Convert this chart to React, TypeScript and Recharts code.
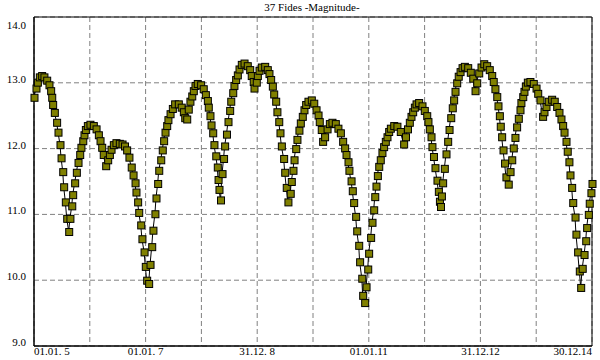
import React from 'react';
import {
  LineChart, Line, XAxis, YAxis, CartesianGrid, ReferenceArea
} from 'recharts';

// days since 01.01.2005
const days = [
  0, 13, 22, 35, 50, 65, 83, 98, 109, 116, 122, 133, 148, 157, 170, 177, 188, 194, 205, 214,
  227, 235, 247, 253, 266, 277, 288, 299, 307, 319, 327, 336, 349, 366, 388, 406, 421, 432, 443, 453,
  469, 482, 493, 504, 519, 536, 558, 576, 592, 606, 621, 636, 648, 661, 667, 678, 685, 698, 706, 720,
  728, 737, 750, 759, 770, 778, 791, 798, 809, 816, 829, 839, 848, 857, 868, 876, 890, 905, 920, 944,
  963, 977, 986, 999, 1009, 1020, 1032, 1042, 1053, 1068, 1090, 1107, 1121, 1134, 1140, 1151, 1158, 1169, 1177, 1189,
  1199, 1204, 1210, 1220, 1230, 1240, 1247, 1259, 1269, 1280, 1287, 1300, 1308, 1319, 1330, 1341, 1356, 1374, 1395, 1411,
  1421, 1434, 1439, 1454, 1461, 1472, 1487, 1509, 1526, 1537, 1548, 1559, 1568, 1581, 1589, 1601, 1609, 1618, 1633, 1640,
  1650, 1661, 1676, 1683, 1694, 1701, 1712, 1720, 1733, 1742, 1755, 1766, 1777, 1792, 1814, 1830, 1845, 1858, 1866, 1879,
  1888, 1901, 1917, 1932, 1949, 1971, 1988, 2004, 2019, 2032, 2041, 2054, 2060, 2074, 2082, 2091, 2104, 2111, 2124, 2130,
  2144, 2150, 2163, 2172, 2183, 2189, 2202, 2211, 2222, 2229, 2237, 2246, 2255, 2265, 2276, 2287, 2298, 2309, 2320, 2331,
  2353, 2374, 2396, 2418, 2430, 2443, 2455, 2466, 2477, 2488, 2499, 2516, 2538, 2553, 2569, 2577, 2586, 2597, 2603, 2613,
  2623, 2636, 2645, 2652, 2659, 2665, 2673, 2684, 2695, 2706, 2715, 2726, 2736, 2745, 2754, 2765, 2775, 2787, 2800, 2815,
  2837, 2854, 2870, 2885, 2896, 2909, 2924, 2942, 2961, 2978, 2994, 3004, 3015, 3027, 3035, 3044, 3050, 3059, 3068, 3078,
  3087, 3102, 3114, 3125, 3135, 3146, 3157, 3168, 3179, 3185, 3197, 3205, 3214, 3227, 3244, 3266, 3284, 3295, 3310, 3327,
  3336, 3349, 3364, 3386, 3403, 3419, 3434, 3447, 3458, 3467, 3480, 3488, 3499, 3506, 3517, 3524, 3539, 3545, 3556, 3567,
  3576, 3586, 3598, 3609, 3615, 3626, 3632, 3643, 3650,
];

const magnitudes = [
  12.78, 12.92, 13.01, 13.09, 13.11, 13.09, 13.04, 12.97, 12.88, 12.78, 12.67, 12.55, 12.40, 12.25, 12.06, 11.86, 11.65, 11.42, 11.19, 10.94,
  10.74, 10.94, 11.13, 11.30, 11.48, 11.64, 11.79, 11.91, 12.02, 12.12, 12.21, 12.29, 12.35, 12.37, 12.35, 12.30, 12.21, 12.12, 12.02, 11.91,
  11.74, 11.83, 11.91, 11.99, 12.06, 12.09, 12.08, 12.07, 12.04, 11.98, 11.87, 11.72, 11.60, 11.48, 11.34, 11.19, 11.03, 10.84, 10.63, 10.43,
  10.21, 10.00, 9.95, 10.24, 10.51, 10.76, 11.01, 11.25, 11.47, 11.67, 11.83, 11.98, 12.12, 12.25, 12.35, 12.44, 12.53, 12.61, 12.68, 12.68,
  12.63, 12.56, 12.47, 12.45, 12.60, 12.72, 12.80, 12.88, 12.96, 12.99, 12.97, 12.91, 12.82, 12.73, 12.63, 12.50, 12.36, 12.24, 12.06, 11.89,
  11.72, 11.53, 11.38, 11.22, 11.62, 11.85, 12.04, 12.22, 12.41, 12.58, 12.72, 12.85, 12.96, 13.05, 13.12, 13.21, 13.28, 13.30, 13.26, 13.20,
  13.11, 13.02, 12.92, 13.01, 13.11, 13.19, 13.24, 13.25, 13.20, 13.14, 13.05, 12.95, 12.83, 12.72, 12.56, 12.41, 12.24, 12.04, 11.85, 11.64,
  11.41, 11.19, 11.32, 11.50, 11.67, 11.83, 12.00, 12.14, 12.28, 12.39, 12.49, 12.59, 12.67, 12.72, 12.74, 12.69, 12.59, 12.51, 12.41, 12.29,
  12.11, 12.18, 12.30, 12.38, 12.40, 12.38, 12.31, 12.24, 12.11, 12.01, 11.91, 11.80, 11.67, 11.51, 11.36, 11.18, 10.97, 10.75, 10.53, 10.28,
  10.03, 9.77, 9.66, 9.90, 10.17, 10.41, 10.65, 10.88, 11.07, 11.27, 11.43, 11.59, 11.73, 11.83, 11.94, 12.03, 12.11, 12.18, 12.26, 12.31,
  12.35, 12.34, 12.26, 12.07, 12.18, 12.30, 12.40, 12.49, 12.56, 12.63, 12.68, 12.70, 12.65, 12.58, 12.50, 12.41, 12.30, 12.18, 12.03, 11.88,
  11.71, 11.52, 11.35, 11.20, 11.12, 11.28, 11.48, 11.70, 11.92, 12.11, 12.29, 12.47, 12.62, 12.74, 12.87, 13.00, 13.10, 13.17, 13.23, 13.25,
  13.23, 13.16, 13.07, 12.88, 13.00, 13.15, 13.24, 13.29, 13.26, 13.20, 13.11, 13.02, 12.91, 12.79, 12.65, 12.50, 12.34, 12.18, 11.98, 11.78,
  11.57, 11.46, 11.65, 11.83, 12.01, 12.17, 12.33, 12.46, 12.59, 12.70, 12.79, 12.87, 12.95, 13.01, 13.02, 12.99, 12.92, 12.84, 12.74, 12.49,
  12.56, 12.64, 12.72, 12.75, 12.72, 12.64, 12.55, 12.45, 12.35, 12.25, 12.11, 11.96, 11.80, 11.60, 11.41, 11.18, 10.96, 10.70, 10.43, 10.14,
  9.89, 10.18, 10.39, 10.60, 10.80, 11.00, 11.17, 11.33, 11.47,
];

const xTicks = [0, 365, 730, 1095, 1460, 1825, 2190, 2555, 2920, 3285, 3650];
const xTickLabels = ['01.01. 5', '', '01.01. 7', '', '31.12. 8', '', '01.01.11', '', '31.12.12', '', '30.12.14'];
const yTicks = [9, 10, 11, 12, 13, 14];

const data = days.map((d, i) => ({ day: d, mag: magnitudes[i] }));

const FONT = '"Liberation Serif", "DejaVu Serif", serif';

const XTick = (props: any) => {
  const { x, y, payload, index } = props;
  const label = xTickLabels[index];
  if (!label) return null;
  const anchor = index === 0 ? 'start' : index === xTicks.length - 1 ? 'end' : 'middle';
  return (
    <text x={x} y={y + 1} textAnchor={anchor} fontSize={11} fontFamily={FONT} fill="#000" style={{ whiteSpace: 'pre' }}>
      {label}
    </text>
  );
};

const YTick = (props: any) => {
  const { x, y, payload } = props;
  return (
    <text x={x} y={Math.max(y, 29)} textAnchor="end" fontSize={11} fontFamily={FONT} fill="#000">
      {Number(payload.value).toFixed(1)}
    </text>
  );
};

const SquareDot = (props: any) => {
  const { cx, cy, index } = props;
  if (cx == null || cy == null) return null;
  return (
    <rect key={`d-${index}`} x={cx - 3} y={cy - 3} width={7} height={7} fill="#808000" stroke="#000" strokeWidth={1} />
  );
};

const App: React.FC = () => {
  return (
    <div style={{ position: 'absolute', left: 0, top: 0, width: 600, height: 360, background: '#fff' }}>
      <div style={{
        position: 'absolute', left: 0, top: 1, width: 624, textAlign: 'center',
        fontFamily: FONT, fontSize: 11, lineHeight: '12px', color: '#000'
      }}>
        37 Fides -Magnitude-
      </div>
      <LineChart width={600} height={360} data={data} margin={{ top: 17, right: 8, left: 4, bottom: 0 }}>
        <CartesianGrid stroke="#808080" strokeDasharray="5 3" />
        <XAxis
          dataKey="day"
          type="number"
          domain={[0, 3650]}
          ticks={xTicks}
          interval={0}
          tickLine={false}
          axisLine={{ stroke: '#000' }}
          height={14}
          tick={<XTick />}
        />
        <YAxis
          type="number"
          domain={[9, 14]}
          ticks={yTicks}
          interval={0}
          tickLine={false}
          axisLine={{ stroke: '#000' }}
          width={30}
          tick={<YTick />}
        />
        <ReferenceArea x1={0} x2={3650} y1={9} y2={14} fill="none" stroke="#000" strokeWidth={1} fillOpacity={0} />
        <Line
          dataKey="mag"
          type="linear"
          stroke="#000"
          strokeWidth={1}
          dot={SquareDot}
          activeDot={false}
          isAnimationActive={false}
        />
      </LineChart>
    </div>
  );
};

export default App;
